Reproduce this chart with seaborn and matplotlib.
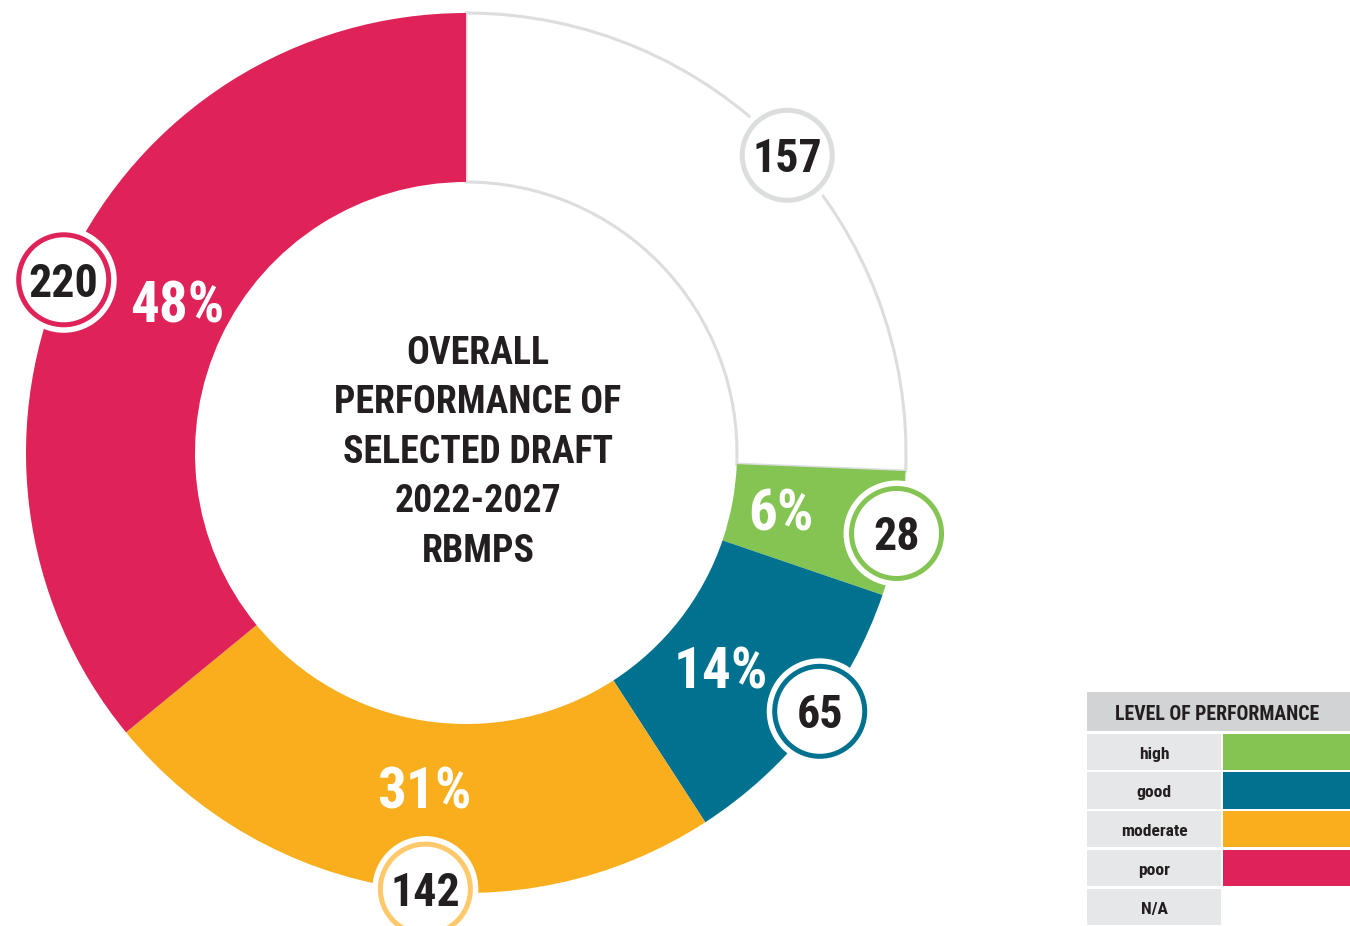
import matplotlib
matplotlib.use("Agg")
import matplotlib.pyplot as plt
from matplotlib.patches import Circle, Rectangle
from matplotlib import font_manager as fm
from matplotlib.textpath import TextPath
import numpy as np
import seaborn as sns

# ---- data ----
categories = ["N/A", "high", "good", "moderate", "poor"]
counts = [157, 28, 65, 142, 220]
seg_colors = ["#FFFFFF", "#84C452", "#00718F", "#F9AE1D", "#DF2359"]
ring_colors = ["#DCDDDE", "#84C452", "#00718F", "#FFC96B", "#DF2359"]
legend_levels = ["high", "good", "moderate", "poor", "N/A"]
legend_colors = ["#84C452", "#00718F", "#F9AE1D", "#DF2359", "#FFFFFF"]
title_lines = ["OVERALL", "PERFORMANCE OF", "SELECTED DRAFT", "2022-2027", "RBMPS"]
legend_title = "LEVEL OF PERFORMANCE"

sns.set_theme(style="white")


# ---- pick a condensed bold font if one is installed ----
def _w(f):
    w = f.weight
    if isinstance(w, str):
        return {"bold": 700, "semibold": 600, "demibold": 600, "heavy": 800,
                "black": 900, "medium": 500}.get(w, 400)
    return w


def pick_font():
    ttf = fm.fontManager.ttflist
    tests = [
        lambda f: f.name == "Liberation Sans Narrow",
        lambda f: f.name == "Roboto Condensed",
        lambda f: "Condensed" in f.name or "Narrow" in f.name,
        lambda f: f.name == "DejaVu Sans" and "condensed" in str(f.stretch),
        lambda f: f.name in ("Noto Sans", "Open Sans", "Roboto") and "condensed" in str(f.stretch),
    ]
    for t in tests:
        c = [f for f in ttf if t(f)]
        if c:
            c.sort(key=lambda f: abs(_w(f) - 700))
            return fm.FontProperties(fname=c[0].fname)
    return fm.FontProperties(family="DejaVu Sans", weight="bold")


FP = pick_font()
plt.rcParams["font.family"] = ["DejaVu Sans"]
DARK = "#231F20"


def fit_size(text, ink_h, max_w=None):
    """font size (pt) so that the ink height is ink_h px, shrunk to fit max_w px."""
    ext = TextPath((0, 0), text, size=100, prop=FP).get_extents()
    px = ink_h / (ext.height / 100.0)
    if max_w is not None and ext.width / 100.0 * px > max_w:
        px = max_w / (ext.width / 100.0)
    return px * 72.0 / 100.0, px * ext.height / 100.0


W, H = 1350, 926
fig = plt.figure(figsize=(W / 100, H / 100), dpi=100)
ax = fig.add_axes([0, 0, 1, 1])

cx, cy = 466, H - 453
R_OUT, WIDTH = 440, 169

wedges, _ = ax.pie(counts, radius=R_OUT, center=(cx, cy), startangle=90,
                   counterclock=False, colors=seg_colors,
                   wedgeprops=dict(width=WIDTH, linewidth=0))
wedges[0].set_edgecolor("#DCDDDE")
wedges[0].set_linewidth(2.2)
wedges[0].set_zorder(0.5)

ax.set_xlim(0, W)
ax.set_ylim(0, H)
ax.set_aspect("auto")
ax.axis("off")

total = sum(counts)
rated = sum(counts[1:])

# small layout nudges (degrees) for the label positions
badge_nudge = {"N/A": 1.0, "high": 0.0, "good": -1.8, "moderate": -3.5, "poor": -2.0}
pct_nudge = {"high": -0.4, "good": 2.2, "moderate": -1.7, "poor": 2.3}
pct_r = {"high": 320, "good": 333, "moderate": 337, "poor": 326}


def polar(angle_deg, r):
    a = np.deg2rad(angle_deg)
    return cx + r * np.sin(a), cy + r * np.cos(a)


num_size, num_h = fit_size("220", 42, 66)
pct_size, pct_h = fit_size("48%", 48, 90)

start = 0.0
for i, (cat, c) in enumerate(zip(categories, counts)):
    span = 360.0 * c / total
    mid = start + span / 2
    start += span
    bx, by = polar(mid + badge_nudge[cat], R_OUT - 2)
    ax.add_patch(Circle((bx, by), 53, facecolor="white", edgecolor="none", zorder=5))
    ax.add_patch(Circle((bx, by), 47.5, facecolor=ring_colors[i], edgecolor="none", zorder=6))
    ax.add_patch(Circle((bx, by), 42.5, facecolor="white", edgecolor="none", zorder=7))
    ax.text(bx, by - num_h / 2, str(c), ha="center", va="baseline", fontproperties=FP,
            fontsize=num_size, color=DARK, zorder=8)
    if cat != "N/A":
        px, py = polar(mid + pct_nudge[cat], pct_r[cat])
        ax.text(px, py - pct_h / 2, f"{round(100 * c / rated)}%", ha="center",
                va="baseline", fontproperties=FP, fontsize=pct_size, color="white", zorder=4)

# centre title
t_size, t_h = fit_size("PERFORMANCE OF", 37, 284)
for k, line in enumerate(title_lines):
    yc = 350 + 49.5 * k
    ax.text(478, H - (yc + t_h / 2), line, ha="center", va="baseline",
            fontproperties=FP, fontsize=t_size, color=DARK)

# legend table
lx0, lx1, lx2 = 1087, 1221, 1350
ax.add_patch(Rectangle((lx0, H - 731), lx2 - lx0, 39, facecolor="#D1D3D4", edgecolor="none"))
h_size, h_h = fit_size(legend_title, 19, 202)
ax.text((lx0 + lx2) / 2 - 1, H - (712.5 + h_h / 2), legend_title, ha="center", va="baseline",
        fontproperties=FP, fontsize=h_size, color=DARK)
l_size, _ = fit_size("moderate", 16, 65)
row_top = 733.5
row_h = 38.8
for j, (lev, col) in enumerate(zip(legend_levels, legend_colors)):
    top = row_top + j * row_h
    hh = row_h - 2.5
    ax.add_patch(Rectangle((lx0, H - (top + hh)), lx1 - lx0, hh,
                           facecolor="#E6E7E8", edgecolor="none"))
    ax.add_patch(Rectangle((lx1 + 2, H - (top + hh)), lx2 - lx1 - 2, hh,
                           facecolor=col, edgecolor="none"))
    ax.text((lx0 + lx1) / 2, H - (top + hh / 2 + 7), lev, ha="center",
            va="baseline", fontproperties=FP, fontsize=l_size, color=DARK)

fig.savefig("out.png", dpi=100)
